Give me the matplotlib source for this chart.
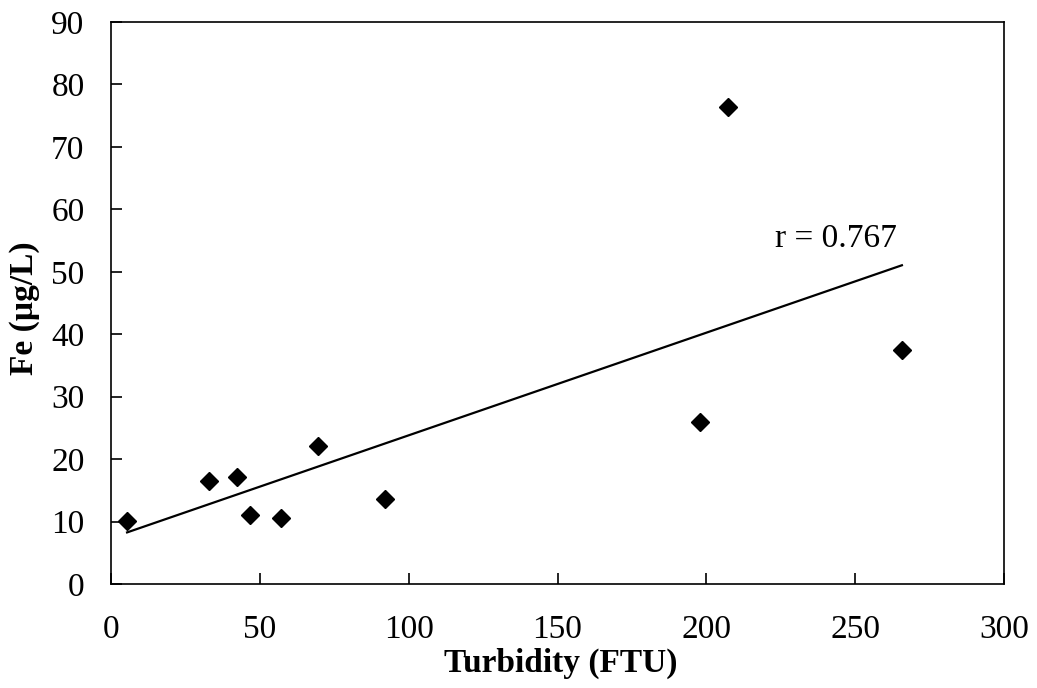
import numpy as np
import matplotlib
matplotlib.use("Agg")
import matplotlib.pyplot as plt

turbidity = [5.4, 32.9, 42.3, 46.7, 57.1, 69.5, 92.0, 197.9, 207.3, 265.7]
fe = [10.1, 16.5, 17.1, 11.05, 10.6, 22.1, 13.6, 25.9, 76.4, 37.5]
r_label = "r = 0.767"

plt.rcParams['font.family'] = ['Liberation Serif', 'DejaVu Serif']

fig = plt.figure(figsize=(10.37, 6.88), dpi=100)
ax = fig.add_axes([111/1037, 1 - 584/688, (1004-111)/1037, (584-22)/688])

ax.plot(turbidity, fe, linestyle='none', marker='D', markersize=9, color='black')

x = np.array(turbidity)
slope, intercept = np.polyfit(x, np.array(fe), 1)
xs = np.array([x.min(), x.max()])
ax.plot(xs, slope * xs + intercept, color='black', linewidth=1.6)

ax.text(223, 54.0, r_label, fontsize=24, color='black', va='baseline', ha='left')

ax.set_xlim(0, 300)
ax.set_ylim(0, 90)
ax.set_xticks(range(0, 301, 50))
ax.set_yticks(range(0, 91, 10))
ax.tick_params(direction='in', length=8, width=1.2, labelsize=24)
ax.tick_params(axis='x', pad=22)
ax.tick_params(axis='y', pad=19)
for s in ax.spines.values():
    s.set_linewidth(1.2)

ax.set_xlabel("Turbidity (FTU)", fontsize=24, fontweight='bold')
ax.set_ylabel("Fe (µg/L)", fontsize=24, fontweight='bold')
ax.xaxis.set_label_coords(0.504, -0.114)
ax.yaxis.set_label_coords(-0.08, 0.49)

fig.savefig("out.png", dpi=100)
